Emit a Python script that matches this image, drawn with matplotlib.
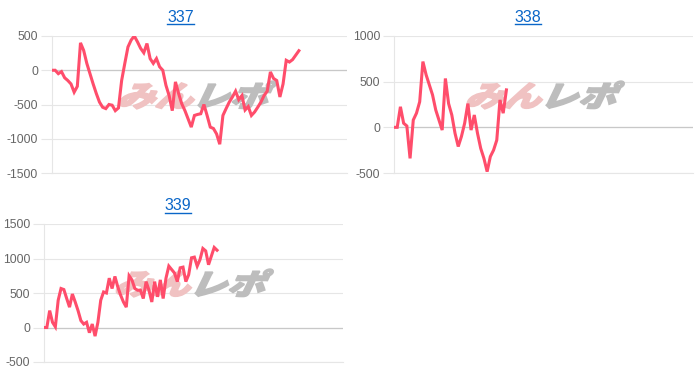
import numpy as np
import matplotlib
matplotlib.use("Agg")
import matplotlib.pyplot as plt
from matplotlib.textpath import TextPath
from matplotlib.font_manager import FontProperties
from matplotlib.patches import PathPatch
from matplotlib.transforms import Affine2D
from matplotlib.lines import Line2D

# ---------------- data ----------------
titles = ["337", "338", "339"]

p337 = [0, 0, -50, -20, -110, -150, -200, -320, -235, 400, 290, 100, -50, -200, -340,
        -465, -540, -560, -500, -510, -590, -550, -150, 100, 340, 440, 500, 415, 320, 255,
        390, 170, 100, 170, 50, 0, -220, -370, -590, -170, -340, -490, -590, -710, -830,
        -660, -645, -635, -500, -660, -830, -850, -930, -1080, -660, -560, -465, -390, -305,
        -430, -370, -580, -530, -660, -610, -540, -465, -370, -305, -25, -120, -150, -390,
        -200, 145, 120, 155, 220, 285]

p338 = [0, 0, 225, 45, 15, -340, 80, 155, 280, 720, 575, 465, 355, 190, 80, -30, 535,
        260, 135, -65, -210, -100, 45, 260, -30, 135, -65, -230, -340, -485, -320, -250,
        -140, 300, 155, 410]

p339 = [0, 0, 245, 75, 10, 395, 565, 550, 420, 295, 485, 370, 245, 100, 50, 75, -75, 50,
        -125, 75, 395, 515, 500, 715, 565, 740, 590, 470, 370, 295, 750, 690, 565, 540, 540,
        420, 665, 540, 370, 665, 445, 690, 420, 715, 890, 840, 790, 665, 865, 875, 665, 765,
        1010, 1020, 890, 985, 1145, 1110, 910, 1035, 1160, 1120]

series = [p337, p338, p339]
ylims = [(-1500, 500), (-500, 1000), (-500, 1500)]
yticks = [[-1500, -1000, -500, 0, 500], [-500, 0, 500, 1000], [-500, 0, 500, 1000, 1500]]
xslots = [93.2, 93.1, 105.4]

# ---------------- layout ----------------
W, H = 700, 376
fig = plt.figure(figsize=(W / 100, H / 100), dpi=100)
plt.rcParams['font.family'] = ['Liberation Sans', 'DejaVu Sans']

# axes boxes in pixels: left, top, right, bottom
boxes = [(52, 36, 347, 173), (394, 36, 693, 173), (44, 224, 343, 362)]
title_pos = [(180.5, 17), (528, 17), (178, 206)]
wm_pos = [(197, 95), (545, 95), (194, 283)]

LINE = '#ff4d6b'
GRID = '#e6e6e6'

fp = FontProperties(family='Noto Sans CJK JP', weight='black')


def watermark(ax, cx, cy):
    s = 34
    pa = TextPath((0, 0), 'みん', size=s, prop=fp)
    pb = TextPath((0, 0), 'レポ', size=s, prop=fp)
    ea, eb = pa.get_extents(), pb.get_extents()
    gap = 6
    shift_b = ea.x1 + gap - eb.x0
    x0 = ea.x0
    total = (eb.x1 + shift_b) - x0
    ymin = min(ea.y0, eb.y0)
    ymax = max(ea.y1, eb.y1)
    hh = ymax - ymin
    base = (Affine2D().translate(-x0 - total / 2, -ymin - hh / 2)
            .skew_deg(20, 0).scale(1.12, 0.85)
            .translate(cx, H - cy).scale(1 / 100) + fig.dpi_scale_trans)
    ta = base
    tb = Affine2D().translate(shift_b, 0) + base
    for path, tr, col in [(pa, ta, '#f0c2c2'), (pb, tb, '#bdbdbd')]:
        patch = PathPatch(path, transform=tr, facecolor=col, edgecolor=col,
                          lw=1.3, joinstyle='miter', zorder=1.5, clip_on=False)
        ax.add_artist(patch)


for i in range(3):
    l, t, r, b = boxes[i]
    ax = fig.add_axes([l / W, 1 - b / H, (r - l) / W, (b - t) / H])
    ax.set_facecolor('white')
    vals = series[i]
    x = np.arange(len(vals))
    ax.plot(x, vals, color=LINE, lw=2.2, zorder=3, solid_joinstyle='miter')
    ax.set_xlim(0, xslots[i])
    ax.set_ylim(*ylims[i])
    ax.set_yticks(yticks[i])
    ax.set_yticklabels([str(v) for v in yticks[i]])
    ax.set_xticks([])
    ax.grid(axis='y', color=GRID, lw=0.8, zorder=0)
    ax.set_axisbelow(True)
    ax.axhline(0, color='#c8c8c8', lw=0.9, zorder=1)
    for sp in ['top', 'right']:
        ax.spines[sp].set_visible(False)
    ax.spines['left'].set_color(GRID)
    ax.spines['left'].set_linewidth(0.8)
    ax.spines['bottom'].set_color(GRID)
    ax.spines['bottom'].set_linewidth(0.8)
    ax.tick_params(axis='y', length=8, width=0.8, color=GRID, pad=2,
                   labelsize=8.8, labelcolor='#666666')
    watermark(ax, *wm_pos[i])

    tx, ty = title_pos[i]
    fig.text(tx / W, 1 - ty / H, titles[i], ha='center', va='center',
             fontsize=11.5, color='#0a66c8')

fig.canvas.draw()
renderer = fig.canvas.get_renderer()
for tobj in list(fig.texts):
    bb = tobj.get_window_extent(renderer)
    yline = bb.y0 + 0.5
    fig.add_artist(Line2D([bb.x0 / W, bb.x1 / W], [yline / H, yline / H],
                          transform=fig.transFigure, color='#0a66c8', lw=1.0))

fig.savefig('out.png', dpi=100, facecolor='white')
